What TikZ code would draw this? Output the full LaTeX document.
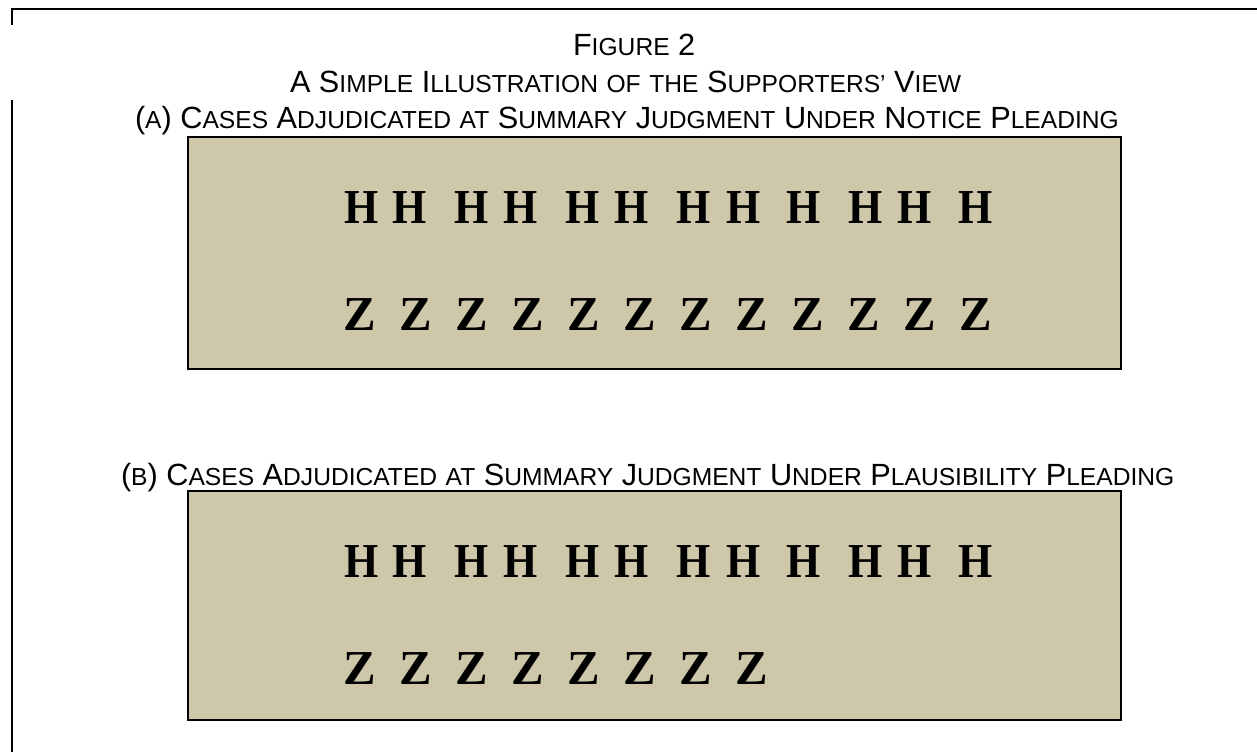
\documentclass[tikz,border=0pt]{standalone}
\usepackage{fontspec}
\setmainfont{Liberation Sans}
\newfontfamily\letterfont{Liberation Serif}
\newcommand\smc[1]{{\fontsize{24.7}{24.7}\selectfont #1}}
\definecolor{boxfill}{RGB}{207,199,169}
\tikzset{
  frameline/.style={line width=1.6bp, black},
  panel/.style={draw=black, line width=2bp, fill=boxfill, inner sep=0, outer sep=0, anchor=north west},
  caption/.style={inner sep=0, outer sep=0, anchor=base west, font=\fontsize{30.8}{36}\selectfont},
  letter/.style={inner sep=0, outer sep=0, anchor=base, font=\letterfont\bfseries\fontsize{49}{49}\selectfont}
}
\begin{document}
\begin{tikzpicture}[x=1bp, y=-1bp]
\useasboundingbox (0,0) rectangle (1257,752);
% frame
\coordinate (ftr) at (1257,9);
\coordinate (ftl) at (12,9);
\coordinate (fl1) at (12,25);
\coordinate (fl2) at (12,100);
\coordinate (fbl) at (12,752);
\draw[frameline] (ftr) -- (ftl) -- (fl1);
\draw[frameline] (fl2) -- (fbl);
% captions
\node[caption] (t1) at (573,56) {F\smc{IGURE} 2};
\node[caption] (t2) at (290,93) {A S\smc{IMPLE} I\smc{LLUSTRATION} \smc{OF} \smc{THE} S\smc{UPPORTERS’} V\smc{IEW}};
\node[caption] (ta) at (135,128) {(\smc{A}) C\smc{ASES} A\smc{DJUDICATED} \smc{AT} S\smc{UMMARY} J\smc{UDGMENT} U\smc{NDER} N\smc{OTICE} P\smc{LEADING}};
\node[caption] (tb) at (121,485) {(\smc{B}) C\smc{ASES} A\smc{DJUDICATED} \smc{AT} S\smc{UMMARY} J\smc{UDGMENT} U\smc{NDER} P\smc{LAUSIBILITY} P\smc{LEADING}};
% panels
\node[panel, minimum width=933bp, minimum height=232bp] (boxA) at (188,137) {};
\node[panel, minimum width=933bp, minimum height=229bp] (boxB) at (188,491) {};
% letters
\foreach \x [count=\i] in {362,410,472,521,583,632,694,744,804,866,915,976}{
  \node[letter] (hA\i) at (\x,223) {\scalebox{0.9}[1]{H}};
  \node[letter] (hB\i) at (\x,577) {\scalebox{0.9}[1]{H}};
}
\foreach \i in {0,...,11}{
  \node[letter] (zA\i) at (360+56*\i,330) {Z};
}
\foreach \i in {0,...,7}{
  \node[letter] (zB\i) at (360+56*\i,684) {Z};
}
\end{tikzpicture}
\end{document}
